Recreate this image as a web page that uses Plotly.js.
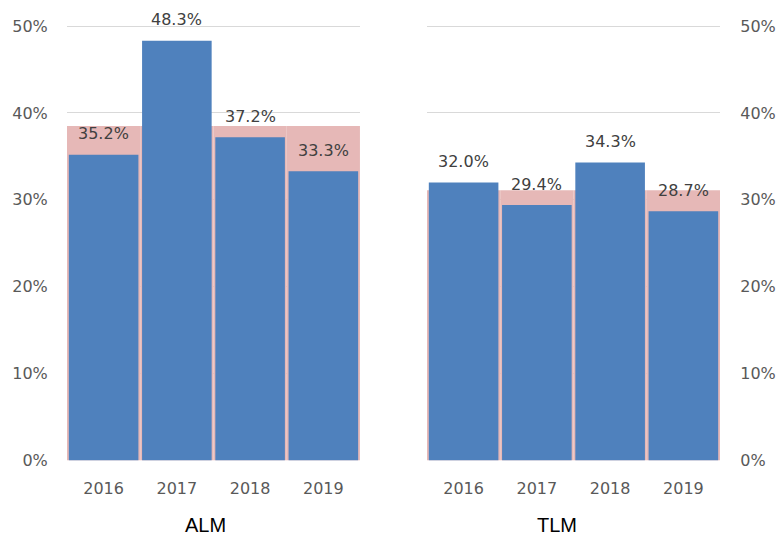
<!DOCTYPE html>
<html><head><meta charset="utf-8">
<script src="https://cdn.plot.ly/plotly-3.0.1.min.js"></script>
<style>html,body{margin:0;padding:0;background:#fff}</style>
</head><body><div id="chart" style="width:780px;height:537px"></div>
<script>
const years = ['2016','2017','2018','2019'];
const almValues = [35.2, 48.3, 37.2, 33.3];
const almAverage = [38.5, 38.5, 38.5, 38.5];
const tlmValues = [32.0, 29.4, 34.3, 28.7];
const tlmAverage = [31.1, 31.1, 31.1, 31.1];
const yTicks = [0, 10, 20, 30, 40, 50];
const yTickText = ['0%', '10%', '20%', '30%', '40%', '50%'];

const blue = '#4f81bd', pink = '#e6b8b7';
const tickFont = {family: 'DejaVu Sans', size: 16, color: '#595959'};
const labelFont = {family: 'DejaVu Sans', size: 16, color: '#404040'};

const traces = [
  {type:'bar', x:years, y:almAverage, xaxis:'x', yaxis:'y', width:1, marker:{color:pink}, hoverinfo:'skip'},
  {type:'bar', x:years, y:almValues, xaxis:'x', yaxis:'y', width:0.95, marker:{color:blue}},
  {type:'bar', x:years, y:tlmAverage, xaxis:'x2', yaxis:'y2', width:1, marker:{color:pink}, hoverinfo:'skip'},
  {type:'bar', x:years, y:tlmValues, xaxis:'x2', yaxis:'y2', width:0.95, marker:{color:blue}}
];

const annotations = [];
years.forEach((yr,i)=>{
  annotations.push({x:i, y:almValues[i], xref:'x', yref:'y', text:almValues[i].toFixed(1)+'%', showarrow:false, xanchor:'center', yanchor:'middle', yshift:21, font:labelFont});
  annotations.push({x:i, y:tlmValues[i], xref:'x2', yref:'y2', text:tlmValues[i].toFixed(1)+'%', showarrow:false, xanchor:'center', yanchor:'middle', yshift:21, font:labelFont});
});
annotations.push({x:0.263, y:0.022, xref:'paper', yref:'paper', xanchor:'center', yanchor:'middle', text:'ALM', showarrow:false, font:{family:'Liberation Sans', size:20, color:'#000'}});
annotations.push({x:0.714, y:0.022, xref:'paper', yref:'paper', xanchor:'center', yanchor:'middle', text:'TLM', showarrow:false, font:{family:'Liberation Sans', size:20, color:'#000'}});

const yAxisBase = {range:[0,50.2], tickmode:'array', tickvals:yTicks, ticktext:yTickText, tickfont:tickFont, showgrid:true, gridcolor:'#d9d9d9', gridwidth:1, zeroline:false, showline:false, ticks:'outside', ticklen:15, tickcolor:'rgba(0,0,0,0)', domain:[0.1425, 0.9547], fixedrange:true};
const xAxisBase = {type:'category', tickfont:tickFont, showline:false, showgrid:false, zeroline:false, ticks:'outside', ticklen:13, tickcolor:'rgba(0,0,0,0)', range:[-0.5,3.5]};

const layout = {
  width:780, height:537,
  margin:{l:0, r:0, t:0, b:0},
  paper_bgcolor:'#fff', plot_bgcolor:'#fff',
  barmode:'overlay', showlegend:false,
  xaxis:Object.assign({}, xAxisBase, {domain:[0.0859, 0.4615], anchor:'y'}),
  yaxis:Object.assign({}, yAxisBase, {anchor:'x', side:'left'}),
  xaxis2:Object.assign({}, xAxisBase, {domain:[0.5474, 0.9231], anchor:'y2'}),
  yaxis2:Object.assign({}, yAxisBase, {anchor:'x2', side:'right', ticklen:16}),
  annotations:annotations
};

Plotly.newPlot('chart', traces, layout, {displayModeBar:false, staticPlot:true});
</script>
</body></html>
